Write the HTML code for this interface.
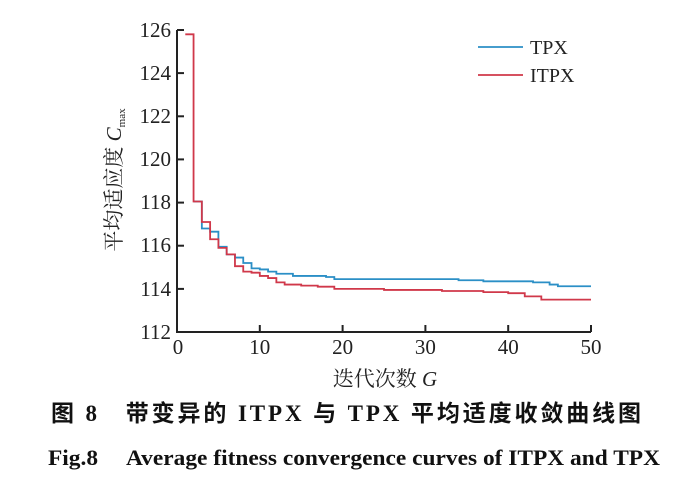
<!DOCTYPE html>
<html><head><meta charset="utf-8"><style>
html,body{margin:0;padding:0;background:#fff;}
</style></head><body>
<svg width="700" height="477" viewBox="0 0 700 477" xmlns="http://www.w3.org/2000/svg" font-family="Liberation Serif, Noto Serif CJK SC, serif">
<rect width="700" height="477" fill="#fff"/>
<g transform="translate(177,332) scale(8.28,-21.57)" fill="none" stroke-width="1.8">
<polyline vector-effect="non-scaling-stroke" stroke="#2b8fc6" points="2,6.05 3,6.05 3,4.8 4,4.8 4,4.65 5,4.65 5,3.95 6,3.95 6,3.6 7,3.6 7,3.45 8,3.45 8,3.2 9,3.2 9,2.95 10,2.95 10,2.9 11,2.9 11,2.8 12,2.8 12,2.7 14,2.7 14,2.6 18,2.6 18,2.55 19,2.55 19,2.45 34,2.45 34,2.4 37,2.4 37,2.35 43,2.35 43,2.3 45,2.3 45,2.2 46,2.2 46,2.12 50,2.12"/>
<polyline vector-effect="non-scaling-stroke" stroke="#d0384a" points="1,13.8 2,13.8 2,6.05 3,6.05 3,5.1 4,5.1 4,4.3 5,4.3 5,3.9 6,3.9 6,3.6 7,3.6 7,3.05 8,3.05 8,2.8 9,2.8 9,2.75 10,2.75 10,2.6 11,2.6 11,2.5 12,2.5 12,2.3 13,2.3 13,2.2 15,2.2 15,2.15 17,2.15 17,2.1 19,2.1 19,2.0 25,2.0 25,1.95 32,1.95 32,1.9 37,1.9 37,1.85 40,1.85 40,1.8 42,1.8 42,1.65 44,1.65 44,1.5 50,1.5"/>
</g>
<g stroke="#222" stroke-width="2" fill="none">
<polyline points="177,30 177,332 591,332"/>
<line x1="177" y1="30" x2="184" y2="30"/>
<line x1="177" y1="73.1" x2="184" y2="73.1"/>
<line x1="177" y1="116.3" x2="184" y2="116.3"/>
<line x1="177" y1="159.4" x2="184" y2="159.4"/>
<line x1="177" y1="202.6" x2="184" y2="202.6"/>
<line x1="177" y1="245.7" x2="184" y2="245.7"/>
<line x1="177" y1="288.9" x2="184" y2="288.9"/>
<line x1="259.8" y1="332" x2="259.8" y2="325"/>
<line x1="342.6" y1="332" x2="342.6" y2="325"/>
<line x1="425.4" y1="332" x2="425.4" y2="325"/>
<line x1="508.2" y1="332" x2="508.2" y2="325"/>
<line x1="591" y1="332" x2="591" y2="325"/>
</g>
<g font-size="21" fill="#222" text-anchor="end">
<text x="171" y="37">126</text>
<text x="171" y="80">124</text>
<text x="171" y="123">122</text>
<text x="171" y="166">120</text>
<text x="171" y="209">118</text>
<text x="171" y="252">116</text>
<text x="171" y="296">114</text>
<text x="171" y="339">112</text>
</g>
<g font-size="21" fill="#222" text-anchor="middle">
<text x="178" y="354">0</text>
<text x="259.8" y="354">10</text>
<text x="342.6" y="354">20</text>
<text x="425.4" y="354">30</text>
<text x="508.2" y="354">40</text>
<text x="591" y="354">50</text>
</g>
<text transform="translate(121,180) rotate(-90)" text-anchor="middle" font-size="21" fill="#222">平均适应度 <tspan font-style="italic">C</tspan><tspan font-size="11" dy="4">max</tspan></text>
<text x="385" y="386" text-anchor="middle" font-size="21" fill="#222">迭代次数 <tspan font-style="italic">G</tspan></text>
<line x1="478" y1="47" x2="523" y2="47" stroke="#2b8fc6" stroke-width="1.8"/>
<line x1="478" y1="75" x2="523" y2="75" stroke="#d0384a" stroke-width="1.8"/>
<text x="530" y="54" font-size="20" fill="#222">TPX</text>
<text x="530" y="82" font-size="20" fill="#222">ITPX</text>
<text x="51" y="421" textLength="590" lengthAdjust="spacing" font-size="23" font-weight="bold" fill="#111" font-family="Liberation Serif, Noto Sans CJK SC, sans-serif">图 8　带变异的 ITPX 与 TPX 平均适度收敛曲线图</text>
<text x="48" y="465" textLength="612" lengthAdjust="spacingAndGlyphs" font-size="22" font-weight="bold" fill="#111">Fig.8　 Average fitness convergence curves of ITPX and TPX</text>
</svg>
</body></html>
